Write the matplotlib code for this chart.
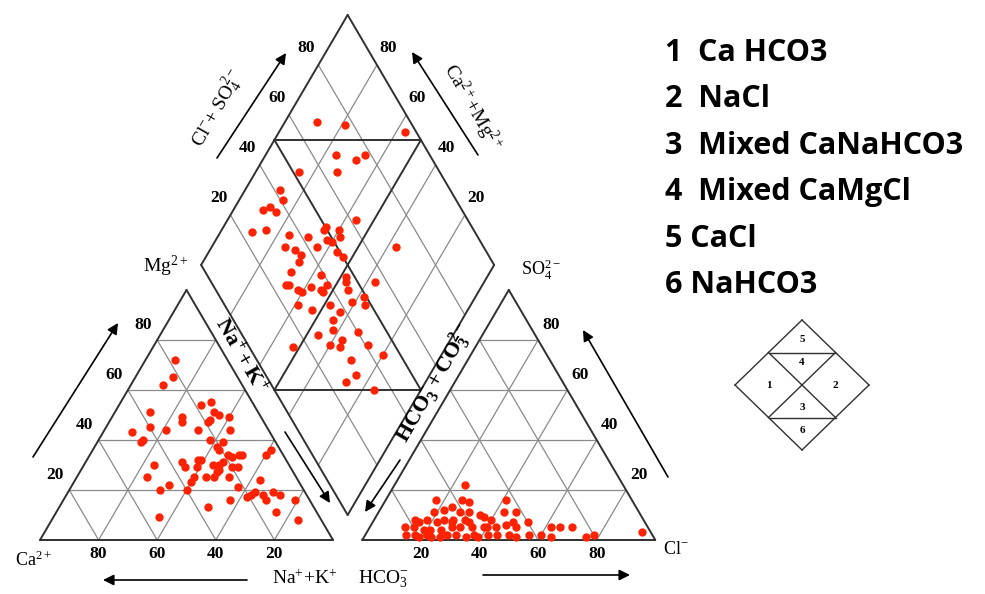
import numpy as np
import matplotlib
matplotlib.use("Agg")
import matplotlib.pyplot as plt

# cation triangle, percent of meq (Na+K is the remainder)
ca_pct = [18, 22, 27, 18, 14, 37, 15, 14, 27, 28,
          11, 19, 18, 40, 35, 24, 13, 47, 45, 46,
          22, 18, 21, 21, 19, 18, 15, 14, 3, 6,
          46, 36, 36, 30, 29, 32, 26, 24, 22, 20,
          18, 26, 25, 51, 35, 31, 28, 23, 37, 13,
          45, 49, 40, 22, 21, 19, 17, 15, 15, 11,
          9, 27, 5, 36, 14, 8, 55]
mg_pct = [72, 65, 62, 54, 55, 51, 51, 50, 49, 47,
          49, 47, 48, 45, 44, 44, 44, 43, 40, 39,
          40, 39, 37, 36, 34, 33, 34, 34, 36, 34,
          30, 31, 29, 32, 32, 29, 30, 30, 31, 29,
          29, 27, 28, 25, 25, 25, 25, 25, 23, 24,
          22, 20, 20, 21, 17, 18, 19, 18, 16, 19,
          18, 16, 16, 13, 11, 8, 9]

# anion triangle (HCO3+CO3 is the remainder)
cl_pct = [24, 17, 26, 29, 41, 19, 22, 24, 28, 31,
          43, 47, 35, 37, 40, 14, 18, 24, 27, 31,
          16, 22, 27, 33, 48, 53, 12, 15, 19, 21,
          25, 28, 31, 35, 39, 40, 43, 46, 50, 62,
          65, 69, 14, 17, 21, 23, 28, 31, 37, 39,
          42, 45, 49, 52, 56, 60, 64, 76, 78, 94,
          26, 35, 19]
so4_pct = [22, 16, 16, 15, 16, 11, 12, 13, 11, 11,
           11, 11, 10, 9, 8, 8, 8, 8, 8, 8,
           7, 7, 7, 7, 7, 7, 5, 5, 4, 4,
           4, 5, 5, 5, 5, 5, 5, 6, 5, 5,
           5, 5, 2, 2, 2, 1, 2, 2, 2, 1,
           2, 2, 2, 1, 2, 2, 1, 1, 2, 3,
           1, 1, 1]

# diamond
camg_pct = [89, 79, 57, 76, 66, 68, 85, 72, 88, 85,
            90, 88, 85, 56, 89, 85, 76, 69, 65, 65,
            60, 58, 62, 60, 75, 71, 64, 68, 56, 53,
            37, 67, 68, 57, 48, 47, 67, 66, 62, 60,
            58, 54, 53, 45, 37, 38, 36, 53, 59, 53,
            48, 41, 43, 44, 33, 46, 42, 37, 36, 40,
            27, 52, 20, 30, 25, 27, 16]
clso4_pct = [68, 77, 96, 68, 78, 74, 52, 65, 42, 41,
             32, 35, 36, 62, 24, 29, 36, 42, 50, 49,
             54, 53, 48, 49, 32, 35, 43, 36, 49, 50,
             70, 34, 29, 39, 47, 46, 25, 26, 28, 29,
             33, 36, 39, 45, 56, 49, 48, 36, 25, 29,
             36, 44, 38, 34, 40, 26, 32, 33, 31, 28,
             41, 15, 44, 32, 31, 26, 34]

ticks = [20, 40, 60, 80]
legend_items = ["1  Ca HCO3", "2  NaCl", "3  Mixed CaNaHCO3",
                "4  Mixed CaMgCl", "5 CaCl", "6 NaHCO3"]

plt.rcParams['mathtext.fontset'] = 'custom'
plt.rcParams['mathtext.rm'] = 'Liberation Serif'
plt.rcParams['mathtext.it'] = 'Liberation Serif:italic'
plt.rcParams['mathtext.bf'] = 'Liberation Serif:bold'
SERIF = 'Liberation Serif'

H = np.sqrt(3) / 2
GAP = 0.1
DOT = '#ff2200'
DARK = '#303030'
GRID = '#8a8a8a'


def cation_xy(ca, mg):
    ca = np.asarray(ca, float) / 100
    mg = np.asarray(mg, float) / 100
    na = 1 - ca - mg
    return na + mg / 2, mg * H


def anion_xy(hco3, so4):
    hco3 = np.asarray(hco3, float) / 100
    so4 = np.asarray(so4, float) / 100
    cl = 1 - hco3 - so4
    return 1 + GAP + cl + so4 / 2, so4 * H


def diamond_xy(a, c):
    a = np.asarray(a, float) / 100
    c = np.asarray(c, float) / 100
    return 1 + GAP / 2 + (c - a) / 2, GAP * H + (a + c) * H


def fpx(px, py):
    return px / 985, 1 - py / 594


fig = plt.figure(figsize=(9.85, 5.94), dpi=100)
ax = fig.add_axes([0, 0, 1, 1])
ax.set_xlim(-40 / 293, 945 / 293)
ax.set_ylim(-54 / 288.7, 540 / 288.7)
ax.axis('off')


def seg(f, p0, p1, **kw):
    x0, y0 = f(*p0)
    x1, y1 = f(*p1)
    ax.plot([x0, x1], [y0, y1], solid_capstyle='round', **kw)


# triangles: f(left_corner_pct, top_pct)
for f in (cation_xy, anion_xy):
    for t in ticks:
        seg(f, (100 - t, t), (0, t), color=GRID, lw=0.9)
        seg(f, (t, 0), (t, 100 - t), color=GRID, lw=0.9)
        seg(f, (100 - t, 0), (0, 100 - t), color=GRID, lw=0.9)
    for p0, p1 in [((100, 0), (0, 0)), ((0, 0), (0, 100)), ((0, 100), (100, 0))]:
        seg(f, p0, p1, color=DARK, lw=1.4)

# diamond
for t in ticks:
    seg(diamond_xy, (t, 0), (t, 100), color=GRID, lw=0.9)
    seg(diamond_xy, (0, t), (100, t), color=GRID, lw=0.9)
for p0, p1 in [((0, 0), (100, 0)), ((100, 0), (100, 100)), ((100, 100), (0, 100)),
               ((0, 100), (0, 0)), ((100, 50), (50, 100)), ((50, 0), (0, 50)),
               ((50, 0), (50, 100)), ((0, 50), (100, 50))]:
    seg(diamond_xy, p0, p1, color=DARK, lw=1.4)

# data points
ax.plot(*cation_xy(ca_pct, mg_pct), 'o', color=DOT, ms=6, mec='none')
hco3_pct = [100 - a - b for a, b in zip(cl_pct, so4_pct)]
ax.plot(*anion_xy(hco3_pct, so4_pct), 'o', color=DOT, ms=6, mec='none')
ax.plot(*diamond_xy(camg_pct, clso4_pct), 'o', color=DOT, ms=6, mec='none')

# tick labels
tk = dict(textcoords='offset pixels', ha='center', va='center',
          fontsize=12.5, fontweight='bold', family=SERIF)
for t in ticks:
    ax.annotate(str(t), cation_xy(100 - t, t), xytext=(-14, 15), **tk)
    ax.annotate(str(t), cation_xy(t, 0), xytext=(0, -14), **tk)
    ax.annotate(str(t), anion_xy(0, t), xytext=(13, 15), **tk)
    ax.annotate(str(t), anion_xy(100 - t, 0), xytext=(0, -14), **tk)
    ax.annotate(str(t), diamond_xy(100, t), xytext=(-12, 17), **tk)
    ax.annotate(str(t), diamond_xy(t, 100), xytext=(11, 17), **tk)

# axis titles
lab = dict(ha='center', va='center', family=SERIF)
fig.text(*fpx(218, 108), r"Cl$^{-}$+ SO$_{4}^{2-}$", rotation=60, fontsize=14, **lab)
fig.text(*fpx(472, 108), r"Ca$^{2+}$+Mg$^{2+}$", rotation=-60, fontsize=14, **lab)
fig.text(*fpx(165, 266), r"Mg$^{2+}$", fontsize=14, **lab)
fig.text(*fpx(541, 270), r"SO$_{4}^{2-}$", fontsize=13, **lab)
fig.text(*fpx(241, 355), r"$\mathbf{Na^{+}+K^{+}}$", rotation=-60, fontsize=16, **lab)
fig.text(*fpx(435, 383), r"$\mathbf{HCO_{3}^{-}+CO_{3}^{2-}}$", rotation=60, fontsize=16, **lab)
fig.text(*fpx(33, 560), r"Ca$^{2+}$", fontsize=13, **lab)
fig.text(*fpx(676, 549), r"Cl$^{-}$", fontsize=13, **lab)
fig.text(*fpx(305, 579), r"Na$^{+}$+K$^{+}$", fontsize=14, **lab)
fig.text(*fpx(383, 579), r"HCO$_{3}^{-}$", fontsize=14, **lab)

# arrows
arrows = [((33, 457), (118, 323)), ((247, 580), (103, 580)),
          ((483, 575), (630, 575)), ((668, 477), (583, 330)),
          ((285, 432), (330, 503)), ((400, 460), (365, 512)),
          ((217, 158), (286, 53)), ((478, 155), (412, 52))]
for tail, head in arrows:
    ax.annotate('', xy=fpx(*head), xytext=fpx(*tail),
                xycoords='figure fraction', textcoords='figure fraction',
                arrowprops=dict(arrowstyle='-|>', mutation_scale=16, lw=1.2,
                                color='black', shrinkA=0, shrinkB=0))

# legend text
for i, item in enumerate(legend_items):
    fig.text(*fpx(665, 53 + i * 46.4), item, ha='left', va='center',
             fontsize=22, fontweight='bold', family='Open Sans')


# mini classification diamond
def mini_xy(a, c):
    a = np.asarray(a, float) / 100
    c = np.asarray(c, float) / 100
    return fpx(802 + (c - a) * 67, 385 - (a + c - 1) * 65)


for p0, p1 in [((0, 0), (100, 0)), ((100, 0), (100, 100)), ((100, 100), (0, 100)),
               ((0, 100), (0, 0)), ((100, 50), (50, 100)), ((50, 0), (0, 50)),
               ((50, 0), (50, 100)), ((0, 50), (100, 50))]:
    x0, y0 = mini_xy(*p0)
    x1, y1 = mini_xy(*p1)
    ax.plot([x0, x1], [y0, y1], color=DARK, lw=1.0, transform=fig.transFigure)

mini_labels = [("1", 75, 25), ("2", 25, 75), ("3", 33, 33),
               ("4", 67, 67), ("5", 85, 85), ("6", 15, 15)]
for s, a, c in mini_labels:
    fig.text(*mini_xy(a, c), s, ha='center', va='center', fontsize=8,
             fontweight='bold', family=SERIF)

fig.savefig('out.png', dpi=100)
